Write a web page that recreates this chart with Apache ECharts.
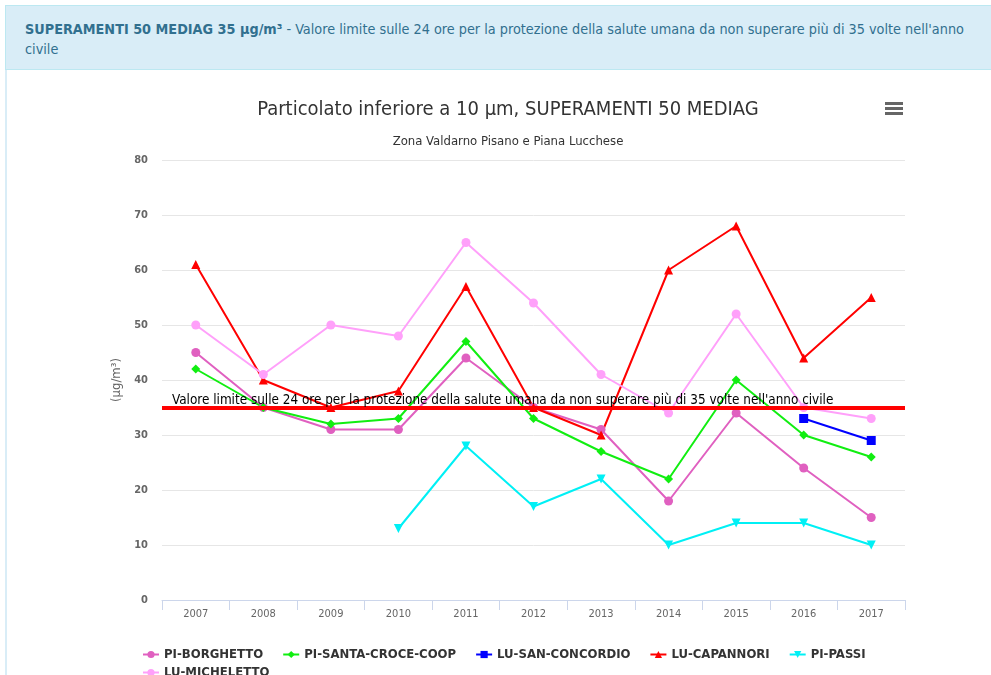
<!DOCTYPE html>
<html>
<head>
<meta charset="utf-8">
<script src="https://cdn.jsdelivr.net/npm/echarts@6/dist/echarts.min.js"></script>
<style>
  body { margin: 0; background: #fff; overflow: hidden; }
  #hdr {
    position: absolute; left: 5px; top: 5px; width: 1000px; height: 65px;
    background: #d9edf7; border: 1px solid #bce8f1; box-sizing: border-box;
    color: #31708f; font-family: "DejaVu Sans Condensed", sans-serif;
    font-size: 14.3px; line-height: 20px; padding: 13px 0 0 19px; white-space: nowrap;
  }
  #hdr b { font-weight: bold; }
  #panel { position: absolute; left: 5px; top: 70px; width: 2px; height: 620px; background: #d9edf7; }
  #chart { position: absolute; left: 0; top: 0; width: 991px; height: 675px; }
</style>
</head>
<body>
<div id="chart"></div>
<div id="hdr"><b>SUPERAMENTI 50 MEDIAG 35 µg/m³</b> - Valore limite sulle 24 ore per la protezione della salute umana da non superare più di 35 volte nell'anno<br>civile</div>
<div id="panel"></div>
<script>
//anni
var anni = ['2007', '2008', '2009', '2010', '2011', '2012', '2013', '2014', '2015', '2016', '2017'];

//superamenti per stazione
var borghetto = [45, 35, 31, 31, 44, 35, 31, 18, 34, 24, 15];
var santaCroce = [42, 35, 32, 33, 47, 33, 27, 22, 40, 30, 26];
var sanConcordio = [null, null, null, null, null, null, null, null, null, 33, 29];
var capannori = [61, 40, 35, 38, 57, 35, 30, 60, 68, 44, 55];
var passi = [null, null, null, 13, 28, 17, 22, 10, 14, 14, 10];
var micheletto = [50, 41, 50, 48, 65, 54, 41, 34, 52, 35, 33];

var limite = 35;
var testoLimite = "Valore limite sulle 24 ore per la protezione della salute umana da non superare più di 35 volte nell'anno civile";

var font = '"DejaVu Sans Condensed", "DejaVu Sans", sans-serif';

function serie(nome, dati, colore, simbolo, dim, rot) {
    return {
        name: nome,
        type: 'line',
        data: dati,
        color: colore,
        symbol: simbolo,
        symbolSize: dim,
        symbolRotate: rot || 0,
        showAllSymbol: true,
        connectNulls: false,
        lineStyle: { width: 2 },
        emphasis: { disabled: true }
    };
}

var series = [
    serie('PI-BORGHETTO', borghetto, '#e060c0', 'circle', 9),
    serie('PI-SANTA-CROCE-COOP', santaCroce, '#11ee11', 'diamond', 9),
    serie('LU-SAN-CONCORDIO', sanConcordio, '#0000ff', 'rect', 9),
    serie('LU-CAPANNORI', capannori, '#ff0000', 'triangle', 9),
    serie('PI-PASSI', passi, '#00f0f5', 'triangle', 9, 180),
    serie('LU-MICHELETTO', micheletto, '#ffa0fa', 'circle', 9)
];

//linea del valore limite
series[3].markLine = {
    silent: true,
    symbol: 'none',
    lineStyle: { color: '#ff0000', width: 4, type: 'solid' },
    label: {
        position: 'insideStartTop',
        formatter: testoLimite,
        color: '#000',
        fontFamily: font,
        fontSize: 13.4,
        distance: [10, 0]
    },
    data: [{ yAxis: limite }]
};

var legendaTesto = { fontSize: 13, fontWeight: 'bold', color: '#333', fontFamily: font };

var option = {
    animation: false,
    textStyle: { fontFamily: font },
    title: [{
        text: 'Particolato inferiore a 10 µm, SUPERAMENTI 50 MEDIAG',
        left: 503,
        top: 95,
        textAlign: 'center',
        textStyle: { fontSize: 20, fontWeight: 'normal', color: '#333', fontFamily: font }
    }, {
        text: 'Zona Valdarno Pisano e Piana Lucchese',
        left: 503,
        top: 130,
        textAlign: 'center',
        textStyle: { fontSize: 13, fontWeight: 'normal', color: '#333', fontFamily: font }
    }],
    graphic: [
        { type: 'rect', shape: { x: 885, y: 102, width: 18, height: 3 }, style: { fill: '#666' } },
        { type: 'rect', shape: { x: 885, y: 107, width: 18, height: 3 }, style: { fill: '#666' } },
        { type: 'rect', shape: { x: 885, y: 112, width: 18, height: 3 }, style: { fill: '#666' } }
    ],
    legend: [{
        data: ['PI-BORGHETTO', 'PI-SANTA-CROCE-COOP', 'LU-SAN-CONCORDIO', 'LU-CAPANNORI', 'PI-PASSI'],
        left: 137,
        top: 643,
        itemWidth: 16,
        itemHeight: 9,
        itemGap: 19,
        textStyle: legendaTesto
    }, {
        data: ['LU-MICHELETTO'],
        left: 137,
        top: 661,
        itemWidth: 16,
        itemHeight: 9,
        textStyle: legendaTesto
    }],
    grid: { left: 162, right: 86, top: 160, bottom: 75 },
    xAxis: {
        type: 'category',
        data: anni,
        boundaryGap: true,
        axisLine: { lineStyle: { color: '#ccd6eb' } },
        axisTick: { show: true, length: 10, lineStyle: { color: '#ccd6eb' } },
        axisLabel: { color: '#666', fontSize: 11, margin: 9 }
    },
    yAxis: {
        type: 'value',
        min: 0,
        max: 80,
        interval: 10,
        name: '(µg/m³)',
        nameLocation: 'middle',
        nameGap: 36,
        nameTextStyle: { color: '#666', fontSize: 13 },
        axisLine: { show: false },
        axisTick: { show: false },
        axisLabel: { color: '#666', fontSize: 11, fontWeight: 'bold', margin: 14 },
        splitLine: { lineStyle: { color: '#e6e6e6' } }
    },
    series: series
};

var myChart = echarts.init(document.getElementById('chart'));
myChart.setOption(option);
</script>
</body>
</html>
